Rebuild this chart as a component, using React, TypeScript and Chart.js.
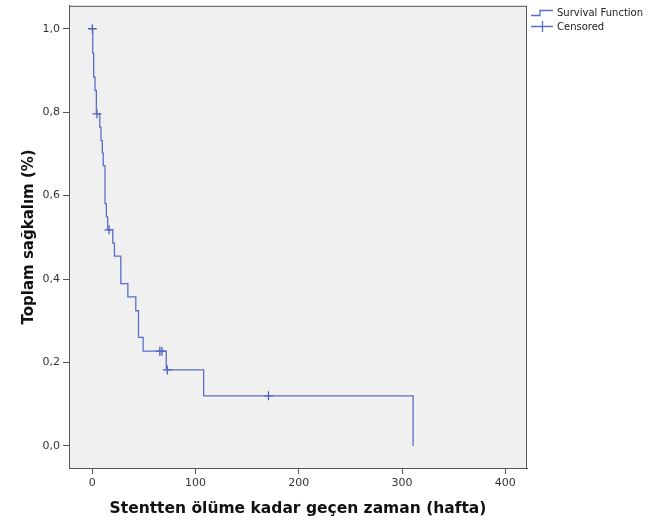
import React, { useEffect, useRef } from 'react';
import { Chart, registerables } from 'chart.js';

Chart.register(...registerables);

// Kaplan-Meier step points (time in weeks, survival proportion)
const stepTimes = [0, 0.4, 1.3, 2.6, 3.9, 7.2, 8.4, 9.7, 10.6, 12.3, 13.6, 14.9, 19.8, 21.4, 27.6, 34.4, 42.1, 44.7, 49.2, 71.6, 107.8, 310.7];
const survival = [1.0, 0.941, 0.884, 0.852, 0.796, 0.764, 0.732, 0.702, 0.672, 0.581, 0.549, 0.518, 0.486, 0.455, 0.389, 0.357, 0.324, 0.26, 0.227, 0.182, 0.12, 0.0];

// Censored observations
const censorTimes = [0, 4.5, 16.2, 65.4, 67.4, 72.6, 170.6];
const censorSurvival = [1.0, 0.796, 0.518, 0.227, 0.227, 0.182, 0.12];

const xTicks = [0, 100, 200, 300, 400];
const yTicks = [0, 0.2, 0.4, 0.6, 0.8, 1.0];
const legendLabels = ['Survival Function', 'Censored'];
const xTitle = 'Stentten ölüme kadar geçen zaman (hafta)';
const yTitle = 'Toplam sağkalım (%)';

const LINE_COLOR = '#5a6ec6';
const AXIS_COLOR = '#555555';
const FONT = 'DejaVu Sans';

const plotPlugin = {
  id: 'plotDecor',
  beforeDraw(chart: any) {
    const { ctx, chartArea: a } = chart;
    ctx.save();
    ctx.fillStyle = '#f0f0f0';
    ctx.fillRect(a.left, a.top, a.right - a.left, a.bottom - a.top);
    ctx.restore();
  },
  afterDraw(chart: any) {
    const { ctx, chartArea: a } = chart;
    ctx.save();
    ctx.strokeStyle = AXIS_COLOR;
    ctx.lineWidth = 1;
    ctx.strokeRect(a.left + 0.5, a.top + 0.5, a.right - a.left - 1, a.bottom - a.top);
    // legend
    const lx = a.right + 4;
    ctx.strokeStyle = LINE_COLOR;
    ctx.lineWidth = 1.3;
    // survival function icon (step)
    ctx.beginPath();
    ctx.moveTo(lx, 15.5);
    ctx.lineTo(lx + 9, 15.5);
    ctx.lineTo(lx + 9, 10.5);
    ctx.lineTo(lx + 22, 10.5);
    ctx.stroke();
    // censored icon (cross)
    ctx.beginPath();
    ctx.moveTo(lx, 26.5);
    ctx.lineTo(lx + 22, 26.5);
    ctx.moveTo(lx + 11.5, 21);
    ctx.lineTo(lx + 11.5, 32);
    ctx.stroke();
    ctx.fillStyle = '#222222';
    ctx.font = `10px "${FONT}"`;
    ctx.textBaseline = 'middle';
    ctx.textAlign = 'left';
    ctx.fillText(legendLabels[0], lx + 26, 13);
    ctx.fillText(legendLabels[1], lx + 26, 27);
    ctx.restore();
  },
};

export default function App() {
  const ref = useRef<HTMLCanvasElement | null>(null);

  useEffect(() => {
    if (!ref.current) return;
    const chart = new Chart(ref.current, {
      type: 'line',
      data: {
        datasets: [
          {
            type: 'line',
            label: legendLabels[0],
            data: stepTimes.map((t, i) => ({ x: t, y: survival[i] })),
            stepped: 'before',
            borderColor: LINE_COLOR,
            borderWidth: 1.3,
            pointRadius: 0,
            fill: false,
            tension: 0,
          },
          {
            type: 'scatter',
            label: legendLabels[1],
            data: censorTimes.map((t, i) => ({ x: t, y: censorSurvival[i] })),
            showLine: false,
            pointStyle: 'cross',
            pointRadius: 4.5,
            pointBorderWidth: 1.3,
            borderColor: '#4a5fbd',
            backgroundColor: '#4a5fbd',
          } as any,
        ],
      },
      options: {
        animation: false,
        responsive: false,
        devicePixelRatio: 1,
        layout: { padding: { left: 0, top: 5, right: 143, bottom: 0 } },
        plugins: {
          legend: { display: false },
          tooltip: { enabled: false },
        },
        scales: {
          x: {
            type: 'linear',
            min: -22.6,
            max: 421,
            afterBuildTicks: (s: any) => {
              s.ticks = xTicks.map((v) => ({ value: v }));
            },
            afterFit: (s: any) => {
              s.height = 56;
              s.paddingLeft = 0;
              s.paddingRight = 0;
            },
            grid: {
              display: true,
              drawOnChartArea: false,
              drawTicks: true,
              tickLength: 6,
              color: AXIS_COLOR,
            },
            border: { display: true, color: AXIS_COLOR },
            ticks: {
              color: '#333333',
              font: { family: FONT, size: 11 },
              padding: 3,
              maxRotation: 0,
              callback: (v: any) => String(v),
            },
            title: {
              display: true,
              text: xTitle,
              color: '#111111',
              font: { family: FONT, size: 15.5, weight: 'bold' },
              padding: { top: 0, bottom: 6 },
            },
          },
          y: {
            type: 'linear',
            min: -0.053,
            max: 1.055,
            afterBuildTicks: (s: any) => {
              s.ticks = yTicks.map((v) => ({ value: v }));
            },
            afterFit: (s: any) => {
              s.width = 69;
              s.paddingTop = 0;
              s.paddingBottom = 0;
            },
            grid: {
              display: true,
              drawOnChartArea: false,
              drawTicks: true,
              tickLength: 6,
              color: AXIS_COLOR,
            },
            border: { display: true, color: AXIS_COLOR },
            ticks: {
              color: '#333333',
              font: { family: FONT, size: 11 },
              padding: 3,
              callback: (v: any) => Number(v).toFixed(1).replace('.', ','),
            },
            title: {
              display: true,
              text: yTitle,
              color: '#111111',
              font: { family: FONT, size: 15, weight: 'bold' },
              padding: { top: 20, bottom: 0 },
            },
          },
        },
      },
      plugins: [plotPlugin],
    });
    return () => chart.destroy();
  }, []);

  return (
    <div style={{ position: 'fixed', left: 0, top: 0, width: 670, height: 524, background: '#ffffff' }}>
      <canvas ref={ref} width={670} height={524} style={{ width: 670, height: 524, display: 'block' }} />
    </div>
  );
}
